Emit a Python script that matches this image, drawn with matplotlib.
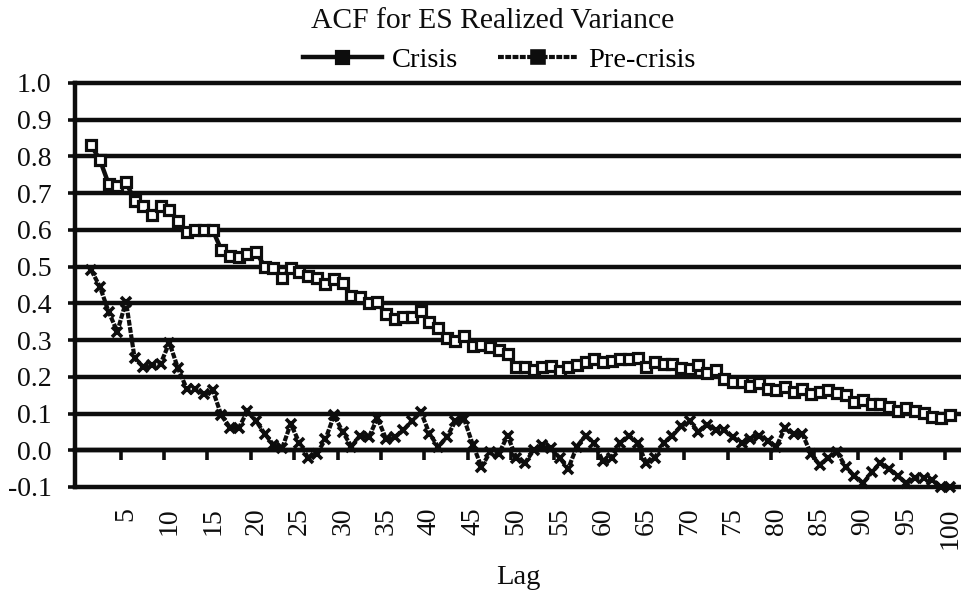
import matplotlib
matplotlib.use("Agg")
import matplotlib.pyplot as plt

plt.rcParams['font.family'] = ['Liberation Serif', 'DejaVu Serif']

lags = list(range(1, 101))

crisis = [0.83, 0.79, 0.725, 0.72, 0.73, 0.68, 0.665, 0.64, 0.665, 0.655,
          0.625, 0.595, 0.60, 0.60, 0.60, 0.545, 0.53, 0.525, 0.535, 0.54,
          0.50, 0.495, 0.47, 0.495, 0.485, 0.475, 0.468, 0.452, 0.465, 0.455,
          0.42, 0.418, 0.40, 0.403, 0.37, 0.358, 0.364, 0.364, 0.38, 0.35,
          0.333, 0.307, 0.297, 0.31, 0.284, 0.287, 0.282, 0.272, 0.262, 0.228,
          0.228, 0.218, 0.228, 0.23, 0.215, 0.226, 0.232, 0.24, 0.248, 0.24,
          0.242, 0.248, 0.248, 0.252, 0.228, 0.24, 0.234, 0.236, 0.224, 0.22,
          0.232, 0.21, 0.218, 0.195, 0.186, 0.185, 0.175, 0.183, 0.166, 0.165,
          0.172, 0.16, 0.168, 0.152, 0.16, 0.165, 0.157, 0.15, 0.132, 0.136,
          0.126, 0.126, 0.117, 0.108, 0.115, 0.107, 0.101, 0.09, 0.089, 0.097]

pre_crisis = [0.49, 0.445, 0.377, 0.323, 0.405, 0.25, 0.227, 0.232, 0.236, 0.293,
              0.223, 0.168, 0.168, 0.152, 0.164, 0.095, 0.062, 0.06, 0.107, 0.08,
              0.045, 0.015, 0.005, 0.072, 0.02, -0.02, -0.01, 0.03, 0.095, 0.05,
              0.01, 0.04, 0.035, 0.088, 0.03, 0.035, 0.055, 0.08, 0.105, 0.045,
              0.01, 0.035, 0.08, 0.085, 0.015, -0.045, -0.005, -0.01, 0.04, -0.02,
              -0.035, 0.0, 0.015, 0.005, -0.02, -0.05, 0.01, 0.04, 0.02, -0.03,
              -0.02, 0.02, 0.04, 0.02, -0.035, -0.02, 0.02, 0.04, 0.065, 0.08,
              0.05, 0.07, 0.055, 0.055, 0.035, 0.02, 0.03, 0.04, 0.025, 0.01,
              0.06, 0.045, 0.045, -0.01, -0.04, -0.02, -0.005, -0.045, -0.07, -0.09,
              -0.06, -0.035, -0.05, -0.07, -0.09, -0.075, -0.075, -0.08, -0.1, -0.1]

y_ticks = [round(-0.1 + 0.1 * i, 1) for i in range(12)]
x_labels = list(range(5, 101, 5))

fig = plt.figure(figsize=(9.62, 5.95), dpi=100)
ax = fig.add_axes([75 / 962, 1 - 487 / 595, 886 / 962, 404 / 595])

ink = '#0d0d0d'

# thick horizontal grid like the original spreadsheet chart
for yv in y_ticks:
    ax.axhline(yv, color=ink, lw=3.2, zorder=1, clip_on=False)

ax.plot(lags, crisis, color=ink, lw=3.2, marker='s', markersize=7.6,
        markerfacecolor='white', markeredgecolor=ink, markeredgewidth=2.3,
        label='Crisis', zorder=3, clip_on=False)
ax.plot(lags, pre_crisis, color=ink, lw=3.0, linestyle=(0, (1.4, 0.35)),
        marker='x', markersize=6.5, markeredgewidth=2.6, markeredgecolor=ink,
        label='Pre-crisis', zorder=3, clip_on=False)

ax.set_xlim(-0.88, 101.3)
ax.set_ylim(-0.1, 1.0)

ax.set_yticks(y_ticks)
ax.set_yticklabels(['%.1f' % v for v in y_ticks])
ax.tick_params(axis='y', direction='out', length=5, width=2.6, pad=12,
               labelsize=20, colors=ink)

ax.spines['top'].set_visible(False)
ax.spines['right'].set_visible(False)
ax.spines['left'].set_linewidth(3.2)
ax.spines['left'].set_color(ink)
ax.spines['bottom'].set_position(('data', 0))
ax.spines['bottom'].set_linewidth(3.2)
ax.spines['bottom'].set_color(ink)

ax.set_xticks(x_labels)
ax.set_xticklabels([str(v) for v in x_labels], rotation=90)
ax.set_xticks([v - 0.6 for v in x_labels], minor=True)
ax.tick_params(axis='x', which='major', length=0, pad=41, labelsize=20,
               colors=ink)
ax.tick_params(axis='x', which='minor', direction='out', length=7, width=2.6,
               colors=ink)

fig.text(0.512, 1 - 21 / 595, 'ACF for ES Realized Variance', ha='center',
         va='center', fontsize=21.3, color=ink)
fig.text(518 / 962, 1 - 578 / 595, 'Lag', ha='center', va='center',
         fontsize=20.5, color=ink)

leg = fig.legend(loc='center', bbox_to_anchor=(499 / 962, 1 - 60 / 595),
                 ncol=2, frameon=False, fontsize=20.5, handlelength=2.8,
                 handletextpad=0.35, columnspacing=1.4, borderpad=0,
                 labelspacing=0)
for h in leg.legend_handles:
    h.set_markerfacecolor(ink)
    h.set_marker('s')
    h.set_markersize(8)

fig.savefig('out.png', dpi=100)
